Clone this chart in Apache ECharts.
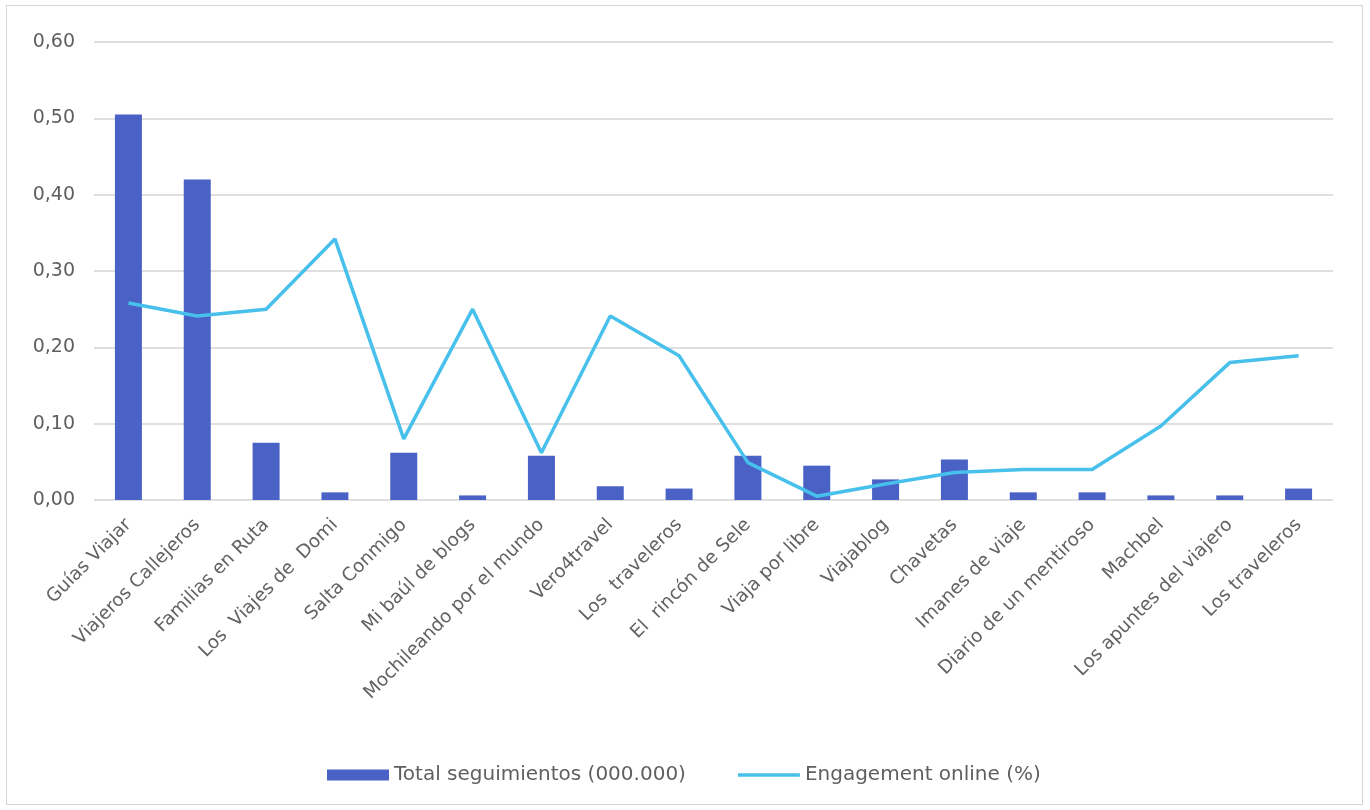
<!DOCTYPE html>
<html><head><meta charset="utf-8">
<script src="https://cdn.jsdelivr.net/npm/echarts@6/dist/echarts.min.js"></script>
<style>
html,body{margin:0;padding:0;background:#fff;}
#frame{position:absolute;left:6px;top:5px;width:1357px;height:800px;border:1.5px solid #d6d6d6;box-sizing:border-box;}
#c{position:absolute;left:0;top:0;width:1370px;height:810px;}
</style></head>
<body><div id="frame"></div><div id="c"></div>
<script>
const categories = ["Guías Viajar","Viajeros Callejeros","Familias en Ruta","Los  Viajes de  Domi","Salta Conmigo","Mi baúl de blogs","Mochileando por el mundo","Vero4travel","Los  traveleros","El  rincón de Sele","Viaja por libre","Viajablog","Chavetas","Imanes de viaje","Diario de un mentiroso","Machbel","Los apuntes del viajero","Los traveleros"];
const totalSeguimientos = [0.505,0.42,0.075,0.01,0.062,0.006,0.058,0.018,0.015,0.058,0.045,0.027,0.053,0.01,0.01,0.006,0.006,0.015];
const engagement = [0.258,0.241,0.25,0.342,0.08,0.25,0.062,0.241,0.189,0.049,0.005,0.021,0.036,0.04,0.04,0.097,0.18,0.189];
const yTicks = [0,0.1,0.2,0.3,0.4,0.5,0.6];

const FONT = 'DejaVu Sans, Liberation Sans, sans-serif';
const chart = echarts.init(document.getElementById('c'));
chart.setOption({
  animation:false,
  backgroundColor:'transparent',
  textStyle:{fontFamily:FONT},
  legend:{
    top:760, left:322, itemGap:52, itemWidth:62, itemHeight:11,
    textStyle:{color:'#5f5f5f',fontSize:20,fontFamily:FONT},
    data:[
      {name:'Total seguimientos (000.000)',icon:'rect'},
      {name:'Engagement online (%)',icon:'path://M0,0 H62 V3.5 H0 Z'}
    ]
  },
  grid:{left:94,right:37,top:42,bottom:310,containLabel:false},
  xAxis:{
    type:'category', data:categories,
    axisLine:{show:false}, axisTick:{show:false},
    axisLabel:{rotate:45,interval:0,color:'#636363',fontSize:18.5,margin:22,fontFamily:FONT}
  },
  yAxis:{
    type:'value', min:yTicks[0], max:yTicks[yTicks.length-1], interval:0.1,
    axisLine:{show:false}, axisTick:{show:false},
    axisLabel:{color:'#5f5f5f',fontSize:19,margin:19,fontFamily:FONT,formatter:v=>v.toFixed(2).replace('.',',')},
    splitLine:{lineStyle:{color:'#d4d4d4',width:1.5}}
  },
  series:[
    {name:'Total seguimientos (000.000)',type:'bar',data:totalSeguimientos,barWidth:27,itemStyle:{color:'#4A62C6'}},
    {name:'Engagement online (%)',type:'line',data:engagement,symbol:'none',lineStyle:{color:'#48C0EC',width:3.5},itemStyle:{color:'#48C0EC'}}
  ]
});
</script></body></html>
